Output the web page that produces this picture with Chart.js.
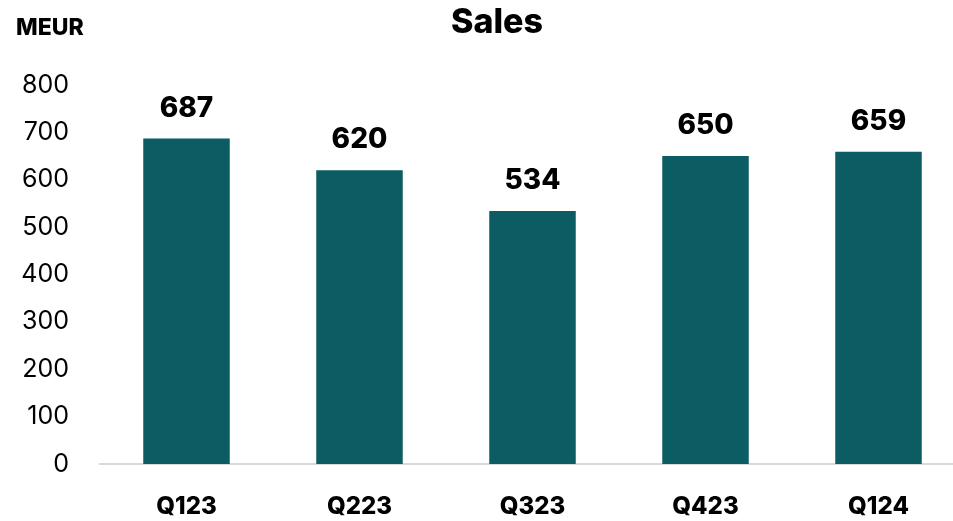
<!DOCTYPE html>
<html>
<head>
<meta charset="utf-8">
<title>Sales</title>
<script src="https://cdn.jsdelivr.net/npm/chart.js@4"></script>
<style>
  html, body { margin: 0; padding: 0; background: #fff; overflow: hidden; }
  #wrap { width: 965px; height: 521px; }
</style>
</head>
<body>
<div id="wrap"><canvas id="salesChart" width="965" height="521"></canvas></div>
<script>
// quarterly sales, MEUR
const quarters = ["Q123", "Q223", "Q323", "Q423", "Q124"];
const sales = [687, 620, 534, 650, 659];
const yTicks = [0, 100, 200, 300, 400, 500, 600, 700, 800];

const FONT = "Inter, 'Open Sans', sans-serif";
const BAR_COLOR = "#0b5c63";

// headings + value labels drawn on top of the bars
const labelsPlugin = {
  id: "salesLabels",
  afterDatasetsDraw(chart) {
    const ctx = chart.ctx;
    ctx.save();
    ctx.fillStyle = "#000";

    ctx.font = "800 23px " + FONT;
    ctx.textAlign = "left";
    ctx.textBaseline = "alphabetic";
    ctx.fillText("MEUR", 16, 35);

    ctx.font = "800 34px " + FONT;
    ctx.textAlign = "center";
    ctx.fillText("Sales", 497, 33);

    ctx.font = "800 28px " + FONT;
    const meta = chart.getDatasetMeta(0);
    meta.data.forEach((bar, i) => {
      ctx.fillText(sales[i], bar.x, bar.y - 22);
    });
    ctx.restore();
  }
};

new Chart(document.getElementById("salesChart"), {
  type: "bar",
  data: {
    labels: quarters,
    datasets: [{
      data: sales,
      backgroundColor: BAR_COLOR,
      categoryPercentage: 1,
      barPercentage: 0.5
    }]
  },
  options: {
    responsive: false,
    animation: false,
    layout: { padding: { top: 85, right: 0, bottom: 0, left: 0 } },
    plugins: {
      legend: { display: false },
      title: { display: false },
      tooltip: { enabled: false }
    },
    scales: {
      x: {
        grid: { display: false, drawTicks: false },
        border: { color: "#d9d9d9", width: 2 },
        ticks: {
          color: "#000",
          font: { family: FONT, size: 24, weight: "800" },
          padding: 28
        },
        afterFit(scale) { scale.height = 57; }
      },
      y: {
        min: 0,
        max: 800,
        afterBuildTicks(scale) { scale.ticks = yTicks.map(v => ({ value: v })); },
        grid: { display: false, drawTicks: false },
        border: { display: false },
        ticks: {
          color: "#000",
          font: { family: FONT, size: 25 },
          padding: 31
        },
        afterFit(scale) { scale.width = 100; }
      }
    }
  },
  plugins: [labelsPlugin]
});
</script>
</body>
</html>
